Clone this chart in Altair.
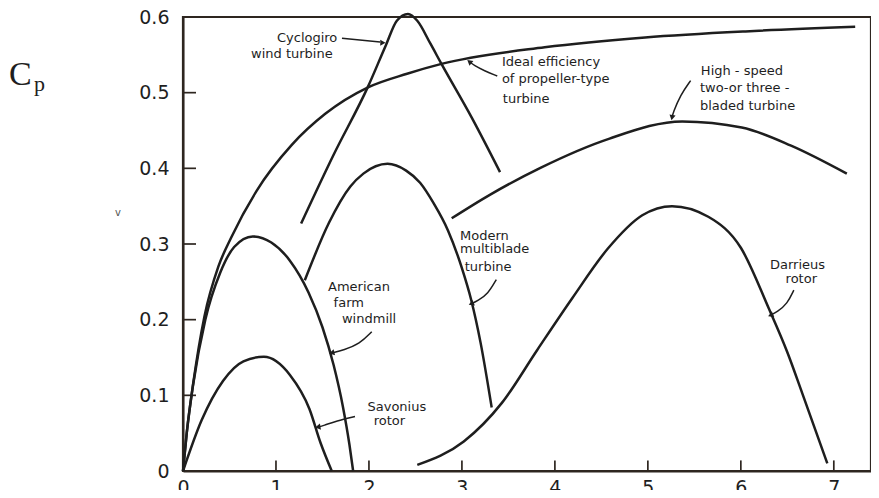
import altair as alt
import pandas as pd

# ---- Data (tip-speed ratio vs power coefficient Cp) ----
ideal_x = [0, 0.04, 0.11, 0.23, 0.38, 0.52, 0.79, 1.17, 1.53, 1.99, 2.41, 2.78, 3.89, 4.97, 6.05, 7.23]
ideal_y = [0, 0.05, 0.116, 0.204, 0.27, 0.309, 0.37, 0.431, 0.472, 0.507, 0.525, 0.538, 0.56, 0.573, 0.581, 0.587]

cyclo_x = [1.27, 1.62, 1.99, 2.18, 2.30, 2.42, 2.52, 2.66, 2.78, 3.11, 3.41]
cyclo_y = [0.327, 0.418, 0.508, 0.562, 0.595, 0.604, 0.595, 0.565, 0.538, 0.466, 0.395]

american_x = [0, 0.04, 0.11, 0.24, 0.40, 0.55, 0.75, 0.95, 1.15, 1.35, 1.50, 1.62, 1.72, 1.79, 1.83]
american_y = [0, 0.05, 0.115, 0.2, 0.262, 0.296, 0.31, 0.302, 0.278, 0.236, 0.19, 0.14, 0.085, 0.035, 0.0]

savonius_x = [0, 0.2, 0.43, 0.65, 0.87, 1.15, 1.36, 1.48, 1.60]
savonius_y = [0, 0.067, 0.119, 0.145, 0.151, 0.127, 0.082, 0.037, 0.0]

multi_x = [1.31, 1.57, 1.80, 1.94, 2.20, 2.40, 2.55, 2.70, 2.85, 3.00, 3.10, 3.20, 3.32]
multi_y = [0.252, 0.328, 0.376, 0.393, 0.406, 0.397, 0.381, 0.353, 0.318, 0.268, 0.226, 0.170, 0.084]

highspeed_x = [2.89, 3.30, 3.85, 4.58, 5.37, 6.01, 6.54, 7.14]
highspeed_y = [0.334, 0.365, 0.401, 0.439, 0.462, 0.454, 0.430, 0.393]

darrieus_x = [2.52, 3.02, 3.43, 3.81, 4.19, 4.57, 4.94, 5.26, 5.65, 6.00, 6.30, 6.50, 6.66, 6.93]
darrieus_y = [0.008, 0.039, 0.090, 0.160, 0.229, 0.294, 0.338, 0.350, 0.336, 0.295, 0.215, 0.157, 0.103, 0.010]

x_tick_values = [0, 1, 2, 3, 4, 5, 6, 7]
y_tick_values = [0, 0.1, 0.2, 0.3, 0.4, 0.5, 0.6]
x_inner_ticks = [1.0, 2.0, 3.0, 4.0, 5.0, 6.0, 7.0]
y_inner_ticks = [0.1, 0.2, 0.3, 0.4, 0.5]
x_tick_len = 0.014   # in Cp units
y_tick_len = 0.14    # in tip-speed-ratio units
x_max = 7.4
y_max = 0.6

# annotation texts
labels_left = ["Ideal efficiency", "of propeller-type", "turbine",
               "High - speed", "two-or three -", "bladed turbine",
               "Modern", "multiblade", "turbine",
               "American", "farm", "windmill"]
labels_left_x = [3.43, 3.43, 3.44, 5.57, 5.56, 5.56, 2.98, 2.98, 3.03, 1.56, 1.62, 1.71]
labels_left_y = [0.540, 0.518, 0.491, 0.529, 0.506, 0.483, 0.311, 0.293, 0.270, 0.243, 0.222, 0.201]

labels_right = ["Cyclogiro", "wind turbine"]
labels_right_x = [1.66, 1.61]
labels_right_y = [0.572, 0.551]

labels_center = ["Savonius", "rotor", "Darrieus", "rotor"]
labels_center_x = [2.30, 2.22, 6.61, 6.65]
labels_center_y = [0.084, 0.066, 0.272, 0.254]

# leader arrows (pointer lines from labels to curves)
arrow_id = ["cyc", "cyc", "ide", "ide", "ide", "ide", "hig", "hig", "hig", "hig",
            "mul", "mul", "mul", "mul", "ame", "ame", "ame", "ame", "sav", "sav", "sav", "sav",
            "dar", "dar", "dar", "dar"]
arrow_x = [1.71, 2.12, 3.38, 3.24, 3.13, 3.08, 5.46, 5.35, 5.27, 5.26,
           3.37, 3.28, 3.17, 3.10, 2.03, 1.90, 1.73, 1.60, 1.85, 1.65, 1.51, 1.45,
           6.57, 6.50, 6.39, 6.32]
arrow_y = [0.572, 0.567, 0.522, 0.529, 0.536, 0.541, 0.516, 0.497, 0.473, 0.467,
           0.253, 0.234, 0.225, 0.221, 0.184, 0.168, 0.160, 0.156, 0.072, 0.066, 0.060, 0.058,
           0.239, 0.221, 0.210, 0.206]
head_x = [2.15, 3.08, 5.26, 3.10, 1.60, 1.45, 6.32]
head_y = [0.566, 0.541, 0.467, 0.221, 0.156, 0.058, 0.206]
head_angle = [90, 309, 191, 247, 256, 260, 247]

# ---- Tables ----
rows = []
for name, xs, ys in [("Ideal", ideal_x, ideal_y), ("Cyclogiro", cyclo_x, cyclo_y),
                     ("American", american_x, american_y), ("Savonius", savonius_x, savonius_y),
                     ("Multiblade", multi_x, multi_y), ("HighSpeed", highspeed_x, highspeed_y),
                     ("Darrieus", darrieus_x, darrieus_y)]:
    for i, (a, b) in enumerate(zip(xs, ys)):
        rows.append({"curve": name, "x": a, "y": b, "o": i})
curves_df = pd.DataFrame(rows)

box_df = pd.DataFrame({"x": [0.0], "x2": [x_max], "y": [0.0], "y2": [y_max]})
xt_df = pd.DataFrame({"x": x_inner_ticks, "y": [0.0] * len(x_inner_ticks),
                      "y2": [x_tick_len] * len(x_inner_ticks)})
yt_df = pd.DataFrame({"y": y_inner_ticks, "x": [0.0] * len(y_inner_ticks),
                      "x2": [y_tick_len] * len(y_inner_ticks)})

arr_rows = []
counter = {}
for k, a, b in zip(arrow_id, arrow_x, arrow_y):
    counter[k] = counter.get(k, 0) + 1
    arr_rows.append({"id": k, "x": a, "y": b, "o": counter[k]})
arrows_df = pd.DataFrame(arr_rows)
heads_df = pd.DataFrame({"x": head_x, "y": head_y, "a": head_angle})

INK = "#1e1e1e"
FRAME_INK = "#2e2620"
FONT = "DejaVu Sans"

xscale = alt.Scale(domain=[0, x_max], nice=False, zero=False)
yscale = alt.Scale(domain=[0, y_max], nice=False, zero=False)
xaxis = alt.Axis(values=x_tick_values, format="d", ticks=False, domain=True, domainColor=FRAME_INK,
                 domainWidth=2, grid=False,
                 labelFont=FONT, labelFontSize=19, labelColor=INK, labelPadding=7,
                 labelFlush=False, labelOverlap=False, title=None)
yaxis = alt.Axis(values=y_tick_values, labelExpr="datum.value == 0 ? '0' : format(datum.value, '.1f')",
                 ticks=False, domain=True, domainColor=FRAME_INK, domainWidth=2, grid=False,
                 labelFont=FONT, labelFontSize=19,
                 labelColor=INK, labelPadding=14, labelFlush=False, labelOverlap=False, title=None)

X = alt.X("x:Q", scale=xscale, axis=xaxis)
Y = alt.Y("y:Q", scale=yscale, axis=yaxis)

box = alt.Chart(box_df).mark_rect(fill=None, stroke=FRAME_INK, strokeWidth=2.2).encode(
    x=X, x2="x2:Q", y=Y, y2="y2:Q")
xticks = alt.Chart(xt_df).mark_rule(color=FRAME_INK, strokeWidth=1.7).encode(x=X, y=Y, y2="y2:Q")
yticks = alt.Chart(yt_df).mark_rule(color=FRAME_INK, strokeWidth=1.7).encode(x=X, x2="x2:Q", y=Y)

curves = alt.Chart(curves_df).mark_line(color=INK, strokeWidth=2.5, interpolate="monotone", clip=False).encode(
    x=X, y=Y, detail="curve:N", order="o:Q")

arrows = alt.Chart(arrows_df).mark_line(color=INK, strokeWidth=1.5, interpolate="basis").encode(
    x=X, y=Y, detail="id:N", order="o:Q")

heads = alt.Chart(heads_df).mark_point(shape="triangle-up", filled=True, color=INK, size=38, opacity=1).encode(
    x=X, y=Y, angle=alt.Angle("a:Q", scale=None))

def text_layer(texts, xs, ys, align):
    df = pd.DataFrame({"t": texts, "x": xs, "y": ys})
    return alt.Chart(df).mark_text(align=align, baseline="middle", font=FONT, fontSize=13, color=INK).encode(
        x=X, y=Y, text="t:N")

t_left = text_layer(labels_left, labels_left_x, labels_left_y, "left")
t_right = text_layer(labels_right, labels_right_x, labels_right_y, "right")
t_center = text_layer(labels_center, labels_center_x, labels_center_y, "center")

cp_c = alt.Chart(pd.DataFrame({"t": ["C"]})).mark_text(align="left", baseline="alphabetic", font="Liberation Serif",
                                                       fontSize=34, color=INK).encode(
    x=alt.value(-174), y=alt.value(68), text="t:N")
cp_p = alt.Chart(pd.DataFrame({"t": ["p"]})).mark_text(align="left", baseline="alphabetic",
                                                       font="Liberation Serif", fontSize=22, color=INK).encode(
    x=alt.value(-149), y=alt.value(74), text="t:N")
vmark = alt.Chart(pd.DataFrame({"t": ["v"]})).mark_text(align="center", baseline="middle", font=FONT,
                                                        fontSize=10, color="#555").encode(
    x=alt.value(-65), y=alt.value(196), text="t:N")

chart = alt.layer(box, xticks, yticks, curves, arrows, heads, t_left, t_right, t_center, cp_c, cp_p, vmark).properties(
    width=688, height=454, autosize="none",
    padding={"left": 175, "top": 9, "right": 0, "bottom": 19},
).configure_view(stroke=FRAME_INK, strokeWidth=2)

chart.save("out.html", embed_options={"renderer": "svg", "actions": False})
